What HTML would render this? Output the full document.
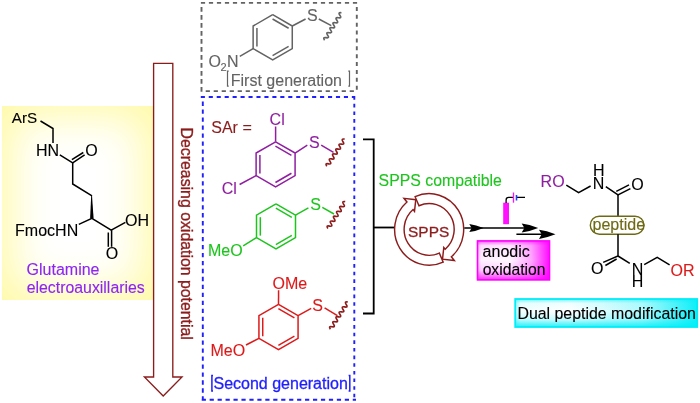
<!DOCTYPE html>
<html><head><meta charset="utf-8"><style>
html,body{margin:0;padding:0;background:#fff;}
#c{position:relative;width:700px;height:403px;overflow:hidden;background:#fff;}
.bx{position:absolute;box-sizing:border-box;}
#yb{left:2px;top:106.4px;width:151px;height:193.4px;background:#fff;box-shadow:inset 0 0 44px 10px #fffaa6;}
svg{position:absolute;left:0;top:0;display:block;font-family:"Liberation Sans",sans-serif;font-kerning:none;will-change:transform;}
</style></head><body><div id="c">
<div class="bx" id="yb"></div>
<svg width="700" height="403" viewBox="0 0 700 403">
<defs>
</defs>
<defs>
<linearGradient id="mh" x1="0" y1="0" x2="1" y2="0"><stop offset="0" stop-color="#ff00ff" stop-opacity="0.3"/><stop offset="0.05" stop-color="#ff00ff" stop-opacity="0.06"/><stop offset="0.45" stop-color="#ff00ff" stop-opacity="0.03"/><stop offset="0.75" stop-color="#ff00ff" stop-opacity="0.35"/><stop offset="1" stop-color="#ff00ff" stop-opacity="0.95"/></linearGradient>
<linearGradient id="mv" x1="0" y1="0" x2="0" y2="1"><stop offset="0" stop-color="#ff00ff" stop-opacity="0.6"/><stop offset="0.12" stop-color="#ff00ff" stop-opacity="0.08"/><stop offset="0.5" stop-color="#ff00ff" stop-opacity="0"/><stop offset="0.75" stop-color="#ff00ff" stop-opacity="0.15"/><stop offset="1" stop-color="#ff00ff" stop-opacity="0.8"/></linearGradient>
</defs>
<rect x="477.5" y="240.9" width="72" height="39" fill="#fff"/>
<rect x="477.5" y="240.9" width="72" height="39" fill="url(#mh)"/>
<rect x="477.5" y="240.9" width="72" height="39" fill="url(#mv)" stroke="#ff00ff" stroke-width="1.6"/>
<defs>
<linearGradient id="ch" x1="0" y1="0" x2="1" y2="0"><stop offset="0" stop-color="#00eef8" stop-opacity="0.35"/><stop offset="0.03" stop-color="#00eef8" stop-opacity="0.05"/><stop offset="0.3" stop-color="#00eef8" stop-opacity="0"/><stop offset="0.7" stop-color="#00eef8" stop-opacity="0.3"/><stop offset="1" stop-color="#00eef8" stop-opacity="0.95"/></linearGradient>
<linearGradient id="cv" x1="0" y1="0" x2="0" y2="1"><stop offset="0" stop-color="#00eef8" stop-opacity="0.55"/><stop offset="0.15" stop-color="#00eef8" stop-opacity="0.06"/><stop offset="0.45" stop-color="#00eef8" stop-opacity="0"/><stop offset="0.72" stop-color="#00eef8" stop-opacity="0.2"/><stop offset="1" stop-color="#00eef8" stop-opacity="0.85"/></linearGradient>
</defs>
<rect x="515.2" y="299" width="182" height="28" fill="#fff"/>
<rect x="515.2" y="299" width="182" height="28" fill="url(#ch)"/>
<rect x="515.2" y="299" width="182" height="28" fill="url(#cv)" stroke="#00eef8" stroke-width="1.8"/>
<text transform="translate(11.77,122.90) scale(1,1.0)" fill="#000" stroke="#000" stroke-width="0.12" font-size="15.2" >ArS</text>
<polyline points="40.50,121.00 53.00,128.50 53.00,143.00" fill="none" stroke="#000" stroke-width="1.5" />
<text transform="translate(35.89,155.60) scale(1,1.0)" fill="#000" stroke="#000" stroke-width="0.12" font-size="16" >HN</text>
<polyline points="59.80,154.80 72.70,162.80 84.60,154.80" fill="none" stroke="#000" stroke-width="1.5" />
<polyline points="71.90,159.60 83.30,152.50" fill="none" stroke="#000" stroke-width="1.5" />
<polyline points="72.70,162.80 72.70,184.00 92.00,195.80" fill="none" stroke="#000" stroke-width="1.5" />
<text transform="translate(85.34,156.20) scale(1,1.0)" fill="#000" stroke="#000" stroke-width="0.12" font-size="16" >O</text>
<polygon points="92.0,195.5 91.2,195.5 90.1,218.6 93.6,218.6" fill="#000"/>
<polyline points="78.80,224.40 91.90,218.30 111.20,230.20 125.40,222.40" fill="none" stroke="#000" stroke-width="1.5" />
<polyline points="111.60,230.20 111.60,246.80" fill="none" stroke="#000" stroke-width="1.5" />
<polyline points="108.30,232.50 108.30,246.80" fill="none" stroke="#000" stroke-width="1.5" />
<text transform="translate(15.09,236.10) scale(1,1.0)" fill="#000" stroke="#000" stroke-width="0.12" font-size="16" >FmocHN</text>
<text transform="translate(125.04,226.00) scale(1,1.0)" fill="#000" stroke="#000" stroke-width="0.12" font-size="16" >OH</text>
<text transform="translate(105.64,259.00) scale(1,1.0)" fill="#000" stroke="#000" stroke-width="0.12" font-size="16" >O</text>
<text transform="translate(26.60,274.70) scale(1,1.0)" fill="#8c24f4" stroke="#8c24f4" stroke-width="0.12" font-size="16" >Glutamine</text>
<text transform="translate(26.73,293.00) scale(1,1.0)" fill="#8c24f4" stroke="#8c24f4" stroke-width="0.12" font-size="15.85" >electroauxillaries</text>
<polygon points="153.6,63.4 172.8,63.4 172.8,377 182,377 163.2,396 144.4,377 153.6,377" fill="none" stroke="#8c1c1c" stroke-width="1.35" stroke-linejoin="miter"/>
<text transform="translate(180.6,127.60) rotate(90) scale(1,1.0)" x="0" y="0" fill="#8c1c1c" stroke="#8c1c1c" stroke-width="0.35" font-size="15.85">Decreasing oxidation potential</text>
<path d="M200.90,2.86H205.10M208.90,2.86H213.10M216.90,2.86H221.10M224.90,2.86H229.10M232.90,2.86H237.10M240.90,2.86H245.10M248.90,2.86H253.10M256.90,2.86H261.10M264.90,2.86H269.10M272.90,2.86H277.10M280.90,2.86H285.10M288.90,2.86H293.10M296.90,2.86H301.10M304.90,2.86H309.10M312.90,2.86H317.10M320.90,2.86H325.10M328.90,2.86H333.10M336.90,2.86H341.10M344.90,2.86H349.10M352.90,2.86H357.10M201.50,7.10V11.70M201.50,15.10V19.70M201.50,23.10V27.70M201.50,31.10V35.70M201.50,39.10V43.70M201.50,47.10V51.70M201.50,55.10V59.70M201.50,63.10V67.70M201.50,71.10V75.70M201.50,79.10V83.70M201.50,87.10V91.70M205.70,91.10H209.90M213.70,91.10H217.90M221.70,91.10H225.90M229.70,91.10H233.90M237.70,91.10H241.90M245.70,91.10H249.90M253.70,91.10H257.90M261.70,91.10H265.90M269.70,91.10H273.90M277.70,91.10H281.90M285.70,91.10H289.90M293.70,91.10H297.90M301.70,91.10H305.90M309.70,91.10H313.90M317.70,91.10H321.90M325.70,91.10H329.90M333.70,91.10H337.90M341.70,91.10H345.90M349.70,91.10H353.90M356.80,6.90V10.90M356.80,14.78V18.78M356.80,22.66V26.66M356.80,30.54V34.54M356.80,38.42V42.42M356.80,46.30V50.30M356.80,54.18V58.18M356.80,62.06V66.06M356.80,69.94V73.94M356.80,77.82V81.82M356.80,85.70V89.70" fill="none" stroke="#636363" stroke-width="1.9"/>
<polyline points="272.70,14.70 292.27,26.00 292.27,48.60 272.70,59.90 253.13,48.60 253.13,26.00 272.70,14.70" fill="none" stroke="#636363" stroke-width="1.5" stroke-linejoin="miter"/>
<polyline points="272.56,19.01 288.61,28.27" fill="none" stroke="#636363" stroke-width="1.5" />
<polyline points="288.61,46.33 272.56,55.59" fill="none" stroke="#636363" stroke-width="1.5" />
<polyline points="256.93,46.57 256.93,28.03" fill="none" stroke="#636363" stroke-width="1.5" />
<polyline points="292.27,26.00 305.60,19.00" fill="none" stroke="#636363" stroke-width="1.5" />
<text transform="translate(306.97,21.20) scale(1,1.0)" fill="#636363" stroke="#636363" stroke-width="0.12" font-size="16" >S</text>
<polyline points="318.80,19.00 331.30,25.70" fill="none" stroke="#636363" stroke-width="1.5" />
<path d="M341.40,12.80 Q337.57,12.16 339.87,15.29 Q342.18,18.42 338.35,17.78 Q334.51,17.15 336.82,20.27 Q339.12,23.40 335.29,22.76 Q331.46,22.13 333.76,25.25 Q336.07,28.38 332.24,27.75 Q328.40,27.11 330.71,30.24 Q333.01,33.36 329.18,32.73 Q325.35,32.09 327.65,35.22 Q329.96,38.35 326.13,37.71 Q322.29,37.07 324.60,40.20" fill="none" stroke="#636363" stroke-width="1.7"/>
<polyline points="239.80,56.40 253.13,48.60" fill="none" stroke="#636363" stroke-width="1.5" />
<text transform="translate(208.44,67.30) scale(1,1.0)" fill="#636363" stroke="#636363" stroke-width="0.12" font-size="16" >O</text>
<text transform="translate(220.55,70.70) scale(1,1.0)" fill="#636363" stroke="#636363" stroke-width="0.12" font-size="11" >2</text>
<text transform="translate(226.89,66.60) scale(1,1.0)" fill="#636363" stroke="#636363" stroke-width="0.12" font-size="16" >N</text>
<polyline points="228.70,71.20 227.50,71.20 227.50,86.20 228.70,86.20" fill="none" stroke="#636363" stroke-width="1.2" />
<text transform="translate(230.79,85.50) scale(1,1.0)" fill="#636363" stroke="#636363" stroke-width="0.12" font-size="16" >First generation</text>
<polyline points="348.30,71.20 349.50,71.20 349.50,86.20 348.30,86.20" fill="none" stroke="#636363" stroke-width="1.2" />
<path d="M200.80,97.00H204.90M208.75,97.00H212.85M216.70,97.00H220.80M224.65,97.00H228.75M232.60,97.00H236.70M240.55,97.00H244.65M248.50,97.00H252.60M256.45,97.00H260.55M264.40,97.00H268.50M272.35,97.00H276.45M280.30,97.00H284.40M288.25,97.00H292.35M296.20,97.00H300.30M304.15,97.00H308.25M312.10,97.00H316.20M320.05,97.00H324.15M328.00,97.00H332.10M335.95,97.00H340.05M343.90,97.00H348.00M351.85,97.00H355.30M202.80,101.60V105.90M202.80,109.56V113.86M202.80,117.53V121.83M202.80,125.50V129.80M202.80,133.46V137.76M202.80,141.43V145.73M202.80,149.39V153.69M202.80,157.36V161.66M202.80,165.32V169.62M202.80,173.29V177.59M202.80,181.25V185.55M202.80,189.22V193.52M202.80,197.18V201.48M202.80,205.15V209.45M202.80,213.11V217.41M202.80,221.08V225.38M202.80,229.04V233.34M202.80,237.01V241.31M202.80,244.97V249.27M202.80,252.94V257.24M202.80,260.90V265.20M202.80,268.87V273.17M202.80,276.83V281.13M202.80,284.79V289.09M202.80,292.76V297.06M202.80,300.72V305.02M202.80,308.69V312.99M202.80,316.65V320.95M202.80,324.62V328.92M202.80,332.58V336.88M202.80,340.55V344.85M202.80,348.51V352.81M202.80,356.48V360.78M202.80,364.44V368.74M202.80,372.41V376.71M202.80,380.37V384.67M202.80,388.34V392.64M202.80,396.30V400.60M201.70,399.80H205.90M209.65,399.80H213.85M217.60,399.80H221.80M225.55,399.80H229.75M233.50,399.80H237.70M241.45,399.80H245.65M249.40,399.80H253.60M257.35,399.80H261.55M265.30,399.80H269.50M273.25,399.80H277.45M281.20,399.80H285.40M289.15,399.80H293.35M297.10,399.80H301.30M305.05,399.80H309.25M313.00,399.80H317.20M320.95,399.80H325.15M328.90,399.80H333.10M336.85,399.80H341.05M344.80,399.80H349.00M352.75,399.80H356.00M354.30,96.20V99.80M354.30,103.83V107.43M354.30,111.46V115.06M354.30,119.09V122.69M354.30,126.72V130.32M354.30,134.35V137.95M354.30,141.98V145.58M354.30,149.61V153.21M354.30,157.24V160.84M354.30,164.87V168.47M354.30,172.50V176.10M354.30,180.13V183.73M354.30,187.76V191.36M354.30,195.39V198.99M354.30,203.02V206.62M354.30,210.65V214.25M354.30,218.28V221.88M354.30,225.91V229.51M354.30,233.54V237.14M354.30,241.17V244.77M354.30,248.80V252.40M354.30,256.43V260.03M354.30,264.06V267.66M354.30,271.69V275.29M354.30,279.32V282.92M354.30,286.95V290.55M354.30,294.58V298.18M354.30,302.21V305.81M354.30,309.84V313.44M354.30,317.47V321.07M354.30,325.10V328.70M354.30,332.73V336.33M354.30,340.36V343.96M354.30,347.99V351.59M354.30,355.62V359.22M354.30,363.25V366.85M354.30,370.88V374.48M354.30,378.51V382.11M354.30,386.14V389.74M354.30,393.77V397.37" fill="none" stroke="#1f1fff" stroke-width="1.9"/>
<text transform="translate(211.27,133.20) scale(1,1.0)" fill="#8c1c1c" stroke="#8c1c1c" stroke-width="0.12" font-size="16" >SAr =</text>
<polyline points="275.60,141.80 295.09,153.05 295.09,175.55 275.60,186.80 256.11,175.55 256.11,153.05 275.60,141.80" fill="none" stroke="#8f1fa0" stroke-width="1.5" stroke-linejoin="miter"/>
<polyline points="275.45,146.10 291.43,155.33" fill="none" stroke="#8f1fa0" stroke-width="1.5" />
<polyline points="291.43,173.27 275.45,182.50" fill="none" stroke="#8f1fa0" stroke-width="1.5" />
<polyline points="259.91,173.53 259.91,155.08" fill="none" stroke="#8f1fa0" stroke-width="1.5" />
<polyline points="275.60,126.50 275.60,141.80" fill="none" stroke="#8f1fa0" stroke-width="1.5" />
<text transform="translate(269.59,125.00) scale(1,1.0)" fill="#8f1fa0" stroke="#8f1fa0" stroke-width="0.12" font-size="16" >Cl</text>
<polyline points="295.09,153.05 307.30,145.10" fill="none" stroke="#8f1fa0" stroke-width="1.5" />
<text transform="translate(309.07,147.90) scale(1,1.0)" fill="#8f1fa0" stroke="#8f1fa0" stroke-width="0.12" font-size="16" >S</text>
<polyline points="321.20,145.10 333.50,152.30" fill="none" stroke="#8f1fa0" stroke-width="1.5" />
<path d="M344.60,139.20 Q340.78,138.46 342.98,141.66 Q345.18,144.87 341.36,144.13 Q337.55,143.38 339.75,146.59 Q341.95,149.80 338.13,149.05 Q334.31,148.31 336.51,151.52 Q338.71,154.73 334.89,153.98 Q331.07,153.24 333.27,156.45 Q335.47,159.65 331.65,158.91 Q327.84,158.16 330.04,161.37 Q332.24,164.58 328.42,163.84 Q324.60,163.09 326.80,166.30" fill="none" stroke="#8c1c1c" stroke-width="1.7"/>
<polyline points="239.60,184.50 256.11,175.55" fill="none" stroke="#8f1fa0" stroke-width="1.5" />
<text transform="translate(221.69,193.80) scale(1,1.0)" fill="#8f1fa0" stroke="#8f1fa0" stroke-width="0.12" font-size="16" >Cl</text>
<polyline points="276.00,203.90 295.49,215.15 295.49,237.65 276.00,248.90 256.51,237.65 256.51,215.15 276.00,203.90" fill="none" stroke="#1ec41e" stroke-width="1.5" stroke-linejoin="miter"/>
<polyline points="275.85,208.20 291.83,217.43" fill="none" stroke="#1ec41e" stroke-width="1.5" />
<polyline points="291.83,235.37 275.85,244.60" fill="none" stroke="#1ec41e" stroke-width="1.5" />
<polyline points="260.31,235.62 260.31,217.18" fill="none" stroke="#1ec41e" stroke-width="1.5" />
<polyline points="295.49,215.15 308.40,207.90" fill="none" stroke="#1ec41e" stroke-width="1.5" />
<text transform="translate(310.17,209.90) scale(1,1.0)" fill="#1ec41e" stroke="#1ec41e" stroke-width="0.12" font-size="16" >S</text>
<polyline points="322.30,207.30 334.00,214.00" fill="none" stroke="#1ec41e" stroke-width="1.5" />
<path d="M345.20,201.70 Q341.39,200.97 343.63,204.14 Q345.87,207.31 342.05,206.57 Q338.24,205.84 340.48,209.01 Q342.72,212.18 338.91,211.45 Q335.10,210.71 337.34,213.88 Q339.57,217.05 335.76,216.32 Q331.95,215.58 334.19,218.75 Q336.43,221.93 332.62,221.19 Q328.81,220.46 331.05,223.63 Q333.28,226.80 329.47,226.06 Q325.66,225.33 327.90,228.50" fill="none" stroke="#8c1c1c" stroke-width="1.7"/>
<polyline points="243.20,245.80 256.51,237.65" fill="none" stroke="#1ec41e" stroke-width="1.5" />
<text transform="translate(207.99,255.50) scale(1,1.0)" fill="#1ec41e" stroke="#1ec41e" stroke-width="0.12" font-size="16" >MeO</text>
<polyline points="278.50,304.40 298.07,315.70 298.07,338.30 278.50,349.60 258.93,338.30 258.93,315.70 278.50,304.40" fill="none" stroke="#dd1a1a" stroke-width="1.5" stroke-linejoin="miter"/>
<polyline points="278.36,308.71 294.41,317.97" fill="none" stroke="#dd1a1a" stroke-width="1.5" />
<polyline points="294.41,336.03 278.36,345.29" fill="none" stroke="#dd1a1a" stroke-width="1.5" />
<polyline points="262.73,336.27 262.73,317.73" fill="none" stroke="#dd1a1a" stroke-width="1.5" />
<polyline points="278.60,290.20 278.50,304.40" fill="none" stroke="#dd1a1a" stroke-width="1.5" />
<text transform="translate(272.44,289.00) scale(1,1.0)" fill="#dd1a1a" stroke="#dd1a1a" stroke-width="0.12" font-size="16" >OMe</text>
<polyline points="298.07,315.70 311.20,308.40" fill="none" stroke="#dd1a1a" stroke-width="1.5" />
<text transform="translate(312.17,311.20) scale(1,1.0)" fill="#dd1a1a" stroke="#dd1a1a" stroke-width="0.12" font-size="16" >S</text>
<polyline points="324.60,307.90 337.40,315.70" fill="none" stroke="#dd1a1a" stroke-width="1.5" />
<path d="M347.80,302.00 Q343.98,301.30 346.22,304.47 Q348.46,307.65 344.64,306.95 Q340.81,306.24 343.05,309.42 Q345.30,312.59 341.47,311.89 Q337.65,311.19 339.89,314.36 Q342.13,317.54 338.31,316.84 Q334.49,316.13 336.73,319.31 Q338.97,322.49 335.15,321.78 Q331.32,321.08 333.56,324.25 Q335.81,327.43 331.98,326.73 Q328.16,326.02 330.40,329.20" fill="none" stroke="#8c1c1c" stroke-width="1.7"/>
<polyline points="246.00,345.00 258.93,338.30" fill="none" stroke="#dd1a1a" stroke-width="1.5" />
<text transform="translate(210.49,356.00) scale(1,1.0)" fill="#dd1a1a" stroke="#dd1a1a" stroke-width="0.12" font-size="16" >MeO</text>
<polyline points="213.00,375.40 211.90,375.40 211.90,391.00 213.00,391.00" fill="none" stroke="#1f1fff" stroke-width="1.5" />
<text transform="translate(213.47,388.70) scale(1,1.0)" fill="#1f1fff" stroke="#1f1fff" stroke-width="0.3" font-size="16" >Second generation</text>
<polyline points="348.60,375.40 349.80,375.40 349.80,391.00 348.60,391.00" fill="none" stroke="#1f1fff" stroke-width="1.5" />
<polyline points="363.00,139.40 373.70,139.40 373.70,313.50 363.00,313.50" fill="none" stroke="#000" stroke-width="1.8" />
<polyline points="373.70,227.50 394.60,227.50" fill="none" stroke="#000" stroke-width="1.8" />
<text transform="translate(378.58,185.50) scale(1,1.0)" fill="#1ec41e" stroke="#1ec41e" stroke-width="0.12" font-size="15.85" >SPPS compatible</text>
<path d="M415.10,196.70 A34.55,35.8 0 0 1 451.36,256.82 L454.33,260.50 L442.53,259.13 L443.79,247.48 L445.22,249.24 A24.99,25.9 0 0 0 418.98,205.74 Z" fill="#fff" stroke="#8c1c1c" stroke-width="1.45" stroke-linejoin="miter"/>
<path d="M443.20,262.10 A34.55,35.8 0 0 1 406.94,201.98 L403.97,198.30 L415.77,199.67 L414.51,211.32 L413.08,209.56 A24.99,25.9 0 0 0 439.32,253.06 Z" fill="#fff" stroke="#8c1c1c" stroke-width="1.45" stroke-linejoin="miter"/>
<text transform="translate(408.10,237.40) scale(1,1.0)" fill="#8c1c1c" stroke="#8c1c1c" stroke-width="0.3" font-size="15.4" >SPPS</text>
<polyline points="464.30,228.00 533.00,228.00" fill="none" stroke="#000" stroke-width="1.6" />
<path d="M483.60,228.00 Q475.74,224.72 469.30,223.90 L471.59,228.00 L469.30,232.10 Q475.74,231.28 483.60,228.00 Z" fill="#000"/>
<path d="M538.20,228.00 Q529.12,224.32 521.70,223.40 L524.34,228.00 L521.70,232.60 Q529.12,231.68 538.20,228.00 Z" fill="#000"/>
<polyline points="516.40,234.30 550.00,234.30" fill="none" stroke="#000" stroke-width="1.6" />
<path d="M555.50,234.30 Q546.42,230.62 539.00,229.70 L541.64,234.30 L539.00,238.90 Q546.42,237.98 555.50,234.30 Z" fill="#000"/>
<rect x="503.2" y="202.7" width="5.8" height="21.5" fill="#ff10ff"/>
<path d="M506.1,203 L506.1,200 Q506.1,197.4 508.7,197.4 L513.3,197.4 M516.8,197.4 L525,197.4" fill="none" stroke="#000" stroke-width="1.3"/>
<polyline points="513.50,192.50 513.50,202.70" fill="none" stroke="#ff10ff" stroke-width="1.3" />
<polyline points="516.50,195.00 516.50,200.50" fill="none" stroke="#2040ff" stroke-width="1.6" />
<text transform="translate(482.62,257.30) scale(1,1.0)" fill="#000" stroke="#000" stroke-width="0.12" font-size="16" >anodic</text>
<text transform="translate(482.64,275.10) scale(1,1.0)" fill="#000" stroke="#000" stroke-width="0.12" font-size="15.7" >oxidation</text>
<text transform="translate(540.59,186.90) scale(1,1.0)" fill="#8f1fa0" stroke="#8f1fa0" stroke-width="0.12" font-size="16" >RO</text>
<polyline points="566.30,185.10 578.60,192.60 590.60,186.00" fill="none" stroke="#000" stroke-width="1.5" />
<text transform="translate(592.99,175.90) scale(1,1.0)" fill="#000" stroke="#000" stroke-width="0.12" font-size="16" >H</text>
<text transform="translate(592.69,188.50) scale(1,1.0)" fill="#000" stroke="#000" stroke-width="0.12" font-size="16" >N</text>
<polyline points="605.80,186.60 618.00,194.80 630.40,188.60" fill="none" stroke="#000" stroke-width="1.5" />
<polyline points="616.30,191.40 629.00,184.90" fill="none" stroke="#000" stroke-width="1.5" />
<text transform="translate(631.24,189.60) scale(1,1.0)" fill="#000" stroke="#000" stroke-width="0.12" font-size="16" >O</text>
<polyline points="618.00,194.80 618.00,216.00" fill="none" stroke="#000" stroke-width="1.5" />
<rect x="590.3" y="216.2" width="53.7" height="18" rx="9" ry="9" fill="#fff" stroke="#6e6a14" stroke-width="1.4"/>
<text transform="translate(592.57,230.20) scale(1,1.0)" fill="#6e6a14" stroke="#6e6a14" stroke-width="0.12" font-size="16" >peptide</text>
<polyline points="618.00,234.20 618.00,256.00 603.20,262.40" fill="none" stroke="#000" stroke-width="1.5" />
<polyline points="616.60,259.00 605.40,265.50" fill="none" stroke="#000" stroke-width="1.5" />
<text transform="translate(590.94,273.60) scale(1,1.0)" fill="#000" stroke="#000" stroke-width="0.12" font-size="16" >O</text>
<polyline points="618.00,256.00 629.80,263.40" fill="none" stroke="#000" stroke-width="1.5" />
<text transform="translate(631.69,275.20) scale(1,1.0)" fill="#000" stroke="#000" stroke-width="0.12" font-size="16" >N</text>
<text transform="translate(631.69,287.00) scale(1,1.0)" fill="#000" stroke="#000" stroke-width="0.12" font-size="16" >H</text>
<polyline points="644.20,264.70 657.20,257.30 669.60,264.90" fill="none" stroke="#000" stroke-width="1.5" />
<text transform="translate(670.44,276.00) scale(1,1.0)" fill="#dd1a1a" stroke="#dd1a1a" stroke-width="0.12" font-size="16" >OR</text>
<text transform="translate(517.40,319.10) scale(1,1.0)" fill="#000" stroke="#000" stroke-width="0.12" font-size="15.9" >Dual peptide modification</text>
</svg></div></body></html>
